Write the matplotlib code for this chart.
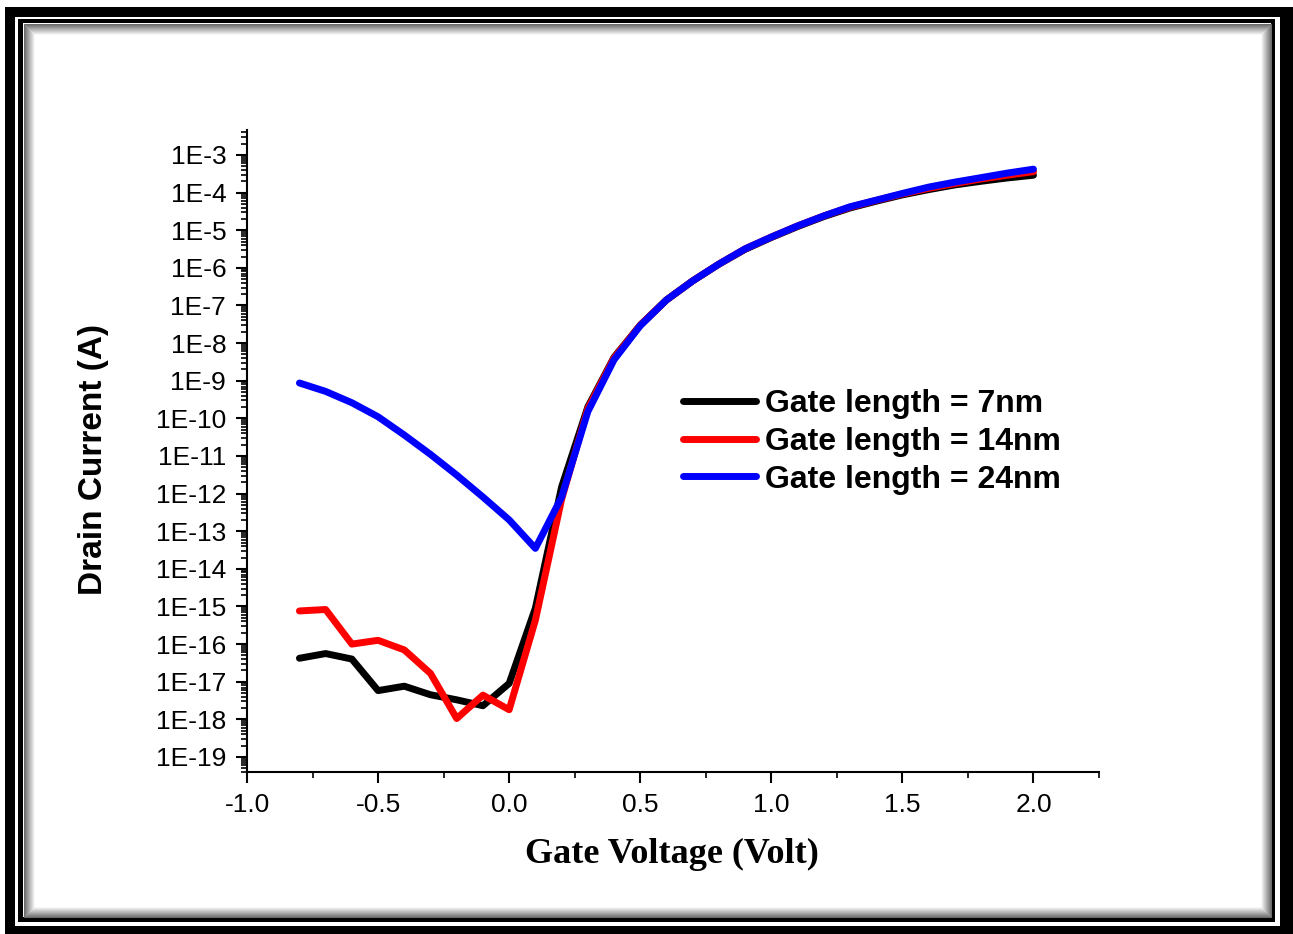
import matplotlib
matplotlib.use("Agg")
import matplotlib.pyplot as plt
from matplotlib.patches import Rectangle
from matplotlib.ticker import MultipleLocator, LogLocator, FixedLocator, NullFormatter

# Gate voltage sweep (V)
gate_voltage = [-0.8, -0.7, -0.6, -0.5, -0.4, -0.3, -0.2, -0.1, 0.0, 0.1,
                0.2, 0.3, 0.4, 0.5, 0.6, 0.7, 0.8, 0.9, 1.0, 1.1,
                1.2, 1.3, 1.4, 1.5, 1.6, 1.7, 1.8, 1.9, 2.0]

# Drain current (A) for each gate length
current_7nm = [4.2e-17, 5.6e-17, 4.0e-17, 5.8e-18, 7.6e-18, 4.5e-18, 3.3e-18, 2.3e-18, 9.0e-18, 9.0e-16,
               1.5e-12, 2.0e-10, 4.2e-9, 3.0e-8, 1.4e-7, 4.5e-7, 1.25e-6, 3.1e-6, 6.4e-6, 1.25e-5,
               2.3e-5, 3.9e-5, 5.9e-5, 8.7e-5, 1.2e-4, 1.6e-4, 2.0e-4, 2.45e-4, 2.9e-4]
current_14nm = [7.6e-16, 8.3e-16, 1.0e-16, 1.26e-16, 7.0e-17, 1.66e-17, 1.05e-18, 4.4e-18, 1.8e-18, 4.3e-16,
                7.0e-13, 1.8e-10, 4.0e-9, 3.0e-8, 1.4e-7, 4.5e-7, 1.26e-6, 3.2e-6, 6.6e-6, 1.3e-5,
                2.4e-5, 4.1e-5, 6.2e-5, 9.2e-5, 1.3e-4, 1.75e-4, 2.3e-4, 2.9e-4, 3.6e-4]
current_24nm = [8.7e-10, 5.2e-10, 2.6e-10, 1.1e-10, 3.6e-11, 1.1e-11, 3.1e-12, 8.1e-13, 2.0e-13, 3.5e-14,
                8.0e-13, 1.5e-10, 3.6e-9, 2.9e-8, 1.4e-7, 4.5e-7, 1.26e-6, 3.2e-6, 6.6e-6, 1.3e-5,
                2.4e-5, 4.2e-5, 6.3e-5, 9.5e-5, 1.4e-4, 1.9e-4, 2.5e-4, 3.3e-4, 4.2e-4]

series_labels = ["Gate length = 7nm", "Gate length = 14nm", "Gate length = 24nm"]
series_colors = ["#000000", "#ff0000", "#0000ff"]

x_ticks = [-1.0, -0.5, 0.0, 0.5, 1.0, 1.5, 2.0]
y_exponents = list(range(-3, -20, -1))
y_tick_labels = ["1E%d" % e for e in y_exponents]

W, H = 1293, 934
fig = plt.figure(figsize=(W / 100, H / 100), dpi=100)
fig.patch.set_facecolor("white")


def px_rect(x0, y0, x1, y1, **kw):
    return Rectangle((x0 / W, 1 - y1 / H), (x1 - x0) / W, (y1 - y0) / H,
                     transform=fig.transFigure, **kw)


# Double border with an inset shadow
fig.add_artist(px_rect(5, 7, 1293, 934, facecolor="black", edgecolor="none", zorder=-5))
fig.add_artist(px_rect(15, 17, 1280, 926, facecolor="white", edgecolor="none", zorder=-4))
fig.add_artist(px_rect(18, 19, 1275, 922, facecolor="black", edgecolor="none", zorder=-3))
fig.add_artist(px_rect(23, 23, 1271, 917, facecolor="white", edgecolor="none", zorder=-2))
for k in range(11):
    g = min(1.0, 0.42 + 0.055 * k)
    fig.add_artist(px_rect(23.5 + k, 23.5 + k, 1270.5 - k, 916.5 - k, fill=False,
                           edgecolor=(g, g, g), linewidth=0.75, zorder=-1))

ax = fig.add_axes([247 / W, 1 - 772 / H, (1099 - 247) / W, (772 - 130) / H])
ax.set_facecolor("none")

for y, lab, col in zip([current_7nm, current_14nm, current_24nm], series_labels, series_colors):
    ax.plot(gate_voltage, y, color=col, linewidth=5, solid_capstyle="round",
            solid_joinstyle="round", label=lab)

ax.set_yscale("log")
ax.set_xlim(-1.0, 2.25)
ax.set_ylim(10 ** -19.4, 10 ** -2.336)

ax.xaxis.set_major_locator(FixedLocator(x_ticks))
ax.xaxis.set_minor_locator(MultipleLocator(0.25))
ax.set_xticklabels(["%.1f" % v for v in x_ticks])

ax.yaxis.set_major_locator(FixedLocator([10.0 ** e for e in y_exponents]))
ax.set_yticklabels(y_tick_labels)
ax.yaxis.set_minor_locator(LogLocator(base=10, subs=range(2, 10), numticks=100))
ax.yaxis.set_minor_formatter(NullFormatter())

for side in ("top", "right"):
    ax.spines[side].set_visible(False)
for side in ("left", "bottom"):
    ax.spines[side].set_linewidth(1.5)

ax.tick_params(axis="both", which="major", direction="out", length=8, width=1.5)
ax.tick_params(axis="both", which="minor", direction="out", length=4.5, width=1.2)
ax.tick_params(axis="y", which="major", pad=7)
ax.tick_params(axis="x", which="major", pad=7)

for t in ax.get_yticklabels():
    t.set_fontfamily("Liberation Sans")
    t.set_fontsize(19)
for t in ax.get_xticklabels():
    t.set_fontfamily("Liberation Sans")
    t.set_fontsize(19)

ax.set_xlabel("Gate Voltage (Volt)", family="Liberation Serif", fontweight="bold", fontsize=26)
ax.set_ylabel("Drain Current (A)", family="Liberation Sans", fontweight="bold", fontsize=24)
ax.xaxis.set_label_coords(0.4988, -0.103)
ax.yaxis.set_label_coords(-0.162, 0.4875)

leg = ax.legend(loc="center left", bbox_to_anchor=(683 / W, 1 - 442 / H),
                bbox_transform=fig.transFigure, frameon=False,
                prop={"family": "Liberation Sans", "weight": "bold", "size": 23},
                handlelength=2.3, handletextpad=0.28, labelspacing=0.24,
                borderpad=0, borderaxespad=0)
for line in leg.get_lines():
    line.set_linewidth(5)
    line.set_solid_capstyle("round")

fig.savefig("out.png", dpi=100)
